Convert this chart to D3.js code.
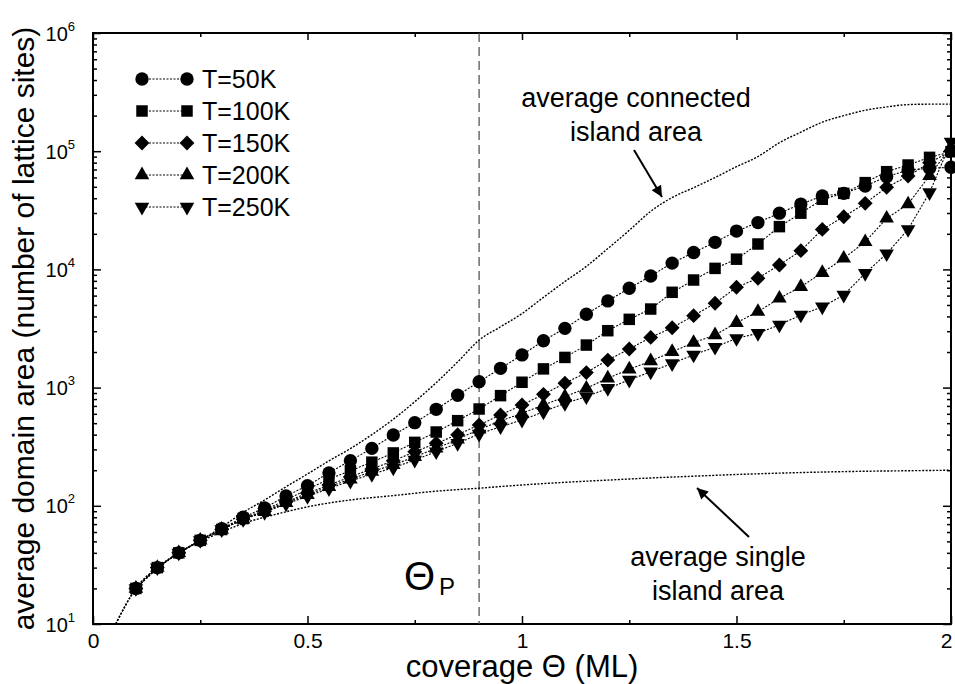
<!DOCTYPE html>
<html>
<head>
<meta charset="utf-8">
<script src="https://cdn.jsdelivr.net/npm/d3@7"></script>
<style>
  body { margin: 0; background: #fff; }
  text { font-family: "Liberation Sans", Arial, sans-serif; fill: #000; }
</style>
</head>
<body>
<div id="chart"></div>
<script>
// coverage values (ML) of the simulated points
var theta = [0.1,0.15,0.2,0.25,0.3,0.35,0.4,0.45,0.5,0.55,0.6,0.65,0.7,0.75,0.8,0.85,0.9,0.95,1.0,
  1.05,1.1,1.15,1.2,1.25,1.3,1.35,1.4,1.45,1.5,1.55,1.6,1.65,1.7,1.75,1.8,1.85,1.9,1.95,2.0];

var t50 = [20,30,40,51,64,80,96,121,148,190,241,306,397,505,655,861,1120,1456,1890,
  2490,3170,4170,5410,6920,8790,11300,13900,16950,21100,24900,29900,35700,41800,44000,50800,60900,69300,71700,73100];
var t100 = [20,30,40,51,63,78,92,112,138,168,198,234,280,344,421,525,659,855,1110,
  1440,1800,2290,3030,3780,4620,6400,8130,10200,12200,16400,23000,29900,39200,44000,54200,67100,76400,88700,99000];
var t150 = [20,30,40,51,63,77,90,108,128,150,176,205,240,287,338,400,483,586,713,
  877,1090,1340,1710,2120,2660,3210,4060,5170,7060,8410,10900,14400,21800,27900,36200,49500,61600,80000,100000];
var t200 = [20,30,40,51,63,77,89,106,124,145,168,195,222,260,306,365,444,522,606,
  713,838,986,1200,1430,1680,2010,2400,2790,3540,4390,5690,7140,9380,12400,17100,27000,35700,62000,109000];
var t250 = [20,30,40,51,63,77,88,104,120,140,162,185,210,244,287,338,405,467,532,
  625,736,838,986,1160,1360,1600,1890,2200,2610,2880,3390,4120,4830,6070,9270,13600,21800,44700,120000];

var seriesNames = ["T=50K", "T=100K", "T=150K", "T=200K", "T=250K"];

// average connected island area (dotted curve)
var connTheta = [0.053,0.1,0.15,0.2,0.25,0.3,0.35,0.4,0.45,0.5,0.55,0.6,0.65,0.7,0.75,0.8,0.85,0.9,0.95,1.0,
  1.05,1.1,1.15,1.2,1.25,1.3,1.35,1.4,1.45,1.5,1.55,1.6,1.65,1.7,1.75,1.8,1.85,1.9,1.95,2.0];
var connArea = [10,20,30,40,51,66,88,112,145,186,240,305,400,540,760,1100,1650,2520,3270,4230,
  5800,7900,10600,15000,21400,31000,40600,49100,59900,74000,90000,118000,145000,176000,200000,222000,237000,248000,250000,250000];

// average single island area (dotted curve)
var singTheta = [0.053,0.1,0.15,0.2,0.25,0.3,0.35,0.4,0.45,0.5,0.6,0.7,0.8,0.9,1.0,1.1,1.2,1.3,1.4,1.5,1.6,1.7,1.8,1.9,2.0];
var singArea = [10,20,30,40,50,60,71,80,89,98,112,122,133,141,150,158,165,172,178,184,189,193,196,198,200];

var thetaP = 0.9;

var xTicks = [0, 0.5, 1, 1.5, 2];
var xTickLabels = ["0", "0.5", "1", "1.5", "2"];
var xMinor = [0.25, 0.75, 1.25, 1.75];
var yTicks = [10, 100, 1000, 10000, 100000, 1000000];
var yTickExp = ["1", "2", "3", "4", "5", "6"];

var svgWidth = 955, svgHeight = 684;
var margin = {top: 33, right: 4, bottom: 60, left: 93};
var width = svgWidth - margin.left - margin.right;
var height = svgHeight - margin.top - margin.bottom;

var svg = d3.select("#chart").append("svg")
  .attr("width", svgWidth)
  .attr("height", svgHeight);

var chart = svg.append("g")
  .attr("transform", `translate(${margin.left}, ${margin.top})`);

var x = d3.scaleLinear().domain([0, 2]).range([0, width]);
var y = d3.scaleLog().domain([10, 1e6]).range([height, 0]);

// minor log ticks
var yMinor = [];
yTicks.slice(0, -1).forEach(function(d) {
  for (var k = 2; k <= 9; k++) yMinor.push(d * k);
});

function styleAxis(g) {
  g.select(".domain").remove();
  g.selectAll("line").attr("stroke", "#000").attr("stroke-width", 1.5);
}

// bottom axis
var gx = chart.append("g")
  .attr("transform", `translate(0, ${height})`)
  .call(d3.axisBottom(x).tickValues(xTicks).tickSize(-8).tickPadding(9)
    .tickFormat(function(d, i) { return xTickLabels[i]; }))
  .call(styleAxis);
gx.selectAll("text").attr("font-size", 21).attr("fill", "#000");
gx.selectAll("text").filter(function(d) { return d === 2; }).attr("dx", -5);

chart.append("g")
  .attr("transform", `translate(0, ${height})`)
  .call(d3.axisBottom(x).tickValues(xMinor).tickSize(-4).tickFormat(""))
  .call(styleAxis);
// top axis
chart.append("g")
  .call(d3.axisTop(x).tickValues(xTicks).tickSize(-7).tickFormat(""))
  .call(styleAxis);
chart.append("g")
  .call(d3.axisTop(x).tickValues(xMinor).tickSize(-4).tickFormat(""))
  .call(styleAxis);

// left axis
var gy = chart.append("g")
  .call(d3.axisLeft(y).tickValues(yTicks).tickSize(-8).tickFormat(""))
  .call(styleAxis);
chart.append("g")
  .call(d3.axisLeft(y).tickValues(yMinor).tickSize(-4).tickFormat(""))
  .call(styleAxis);
// right axis
chart.append("g")
  .attr("transform", `translate(${width}, 0)`)
  .call(d3.axisRight(y).tickValues(yTicks).tickSize(-8).tickFormat(""))
  .call(styleAxis);
chart.append("g")
  .attr("transform", `translate(${width}, 0)`)
  .call(d3.axisRight(y).tickValues(yMinor).tickSize(-4).tickFormat(""))
  .call(styleAxis);

// y tick labels 10^n
gy.selectAll(".tick").each(function(d, i) {
  var t = d3.select(this).append("text")
    .attr("x", -18)
    .attr("y", 7)
    .attr("text-anchor", "end")
    .attr("font-size", 20);
  t.append("tspan").text("10");
  t.append("tspan").attr("dy", -10).attr("font-size", 13).text(yTickExp[i]);
});

// frame
chart.append("rect")
  .attr("width", width)
  .attr("height", height)
  .attr("fill", "none")
  .attr("stroke", "#000")
  .attr("stroke-width", 2);

// dashed percolation line
chart.append("line")
  .attr("x1", x(thetaP)).attr("x2", x(thetaP))
  .attr("y1", 0).attr("y2", height)
  .attr("stroke", "#555")
  .attr("stroke-width", 1.3)
  .attr("stroke-dasharray", "9,5");

var line = d3.line()
  .x(function(d) { return x(d[0]); })
  .y(function(d) { return y(d[1]); });

// connected and single island curves
chart.append("path")
  .datum(d3.zip(connTheta, connArea))
  .attr("d", line.curve(d3.curveMonotoneX))
  .attr("fill", "none")
  .attr("stroke", "#000")
  .attr("stroke-width", 1.4)
  .attr("stroke-dasharray", "2,1.5");

chart.append("path")
  .datum(d3.zip(singTheta, singArea))
  .attr("d", line.curve(d3.curveMonotoneX))
  .attr("fill", "none")
  .attr("stroke", "#000")
  .attr("stroke-width", 1.4)
  .attr("stroke-dasharray", "2,1.5");

line.curve(d3.curveLinear);

var diamond = {
  draw: function(context, size) {
    var r = Math.sqrt(size / 2);
    context.moveTo(0, -r);
    context.lineTo(r, 0);
    context.lineTo(0, r);
    context.lineTo(-r, 0);
    context.closePath();
  }
};

var markers = [
  {type: d3.symbolCircle, size: 140, rot: 0},
  {type: d3.symbolSquare, size: 132, rot: 0},
  {type: diamond, size: 110, rot: 0},
  {type: d3.symbolTriangle, size: 92, rot: 0},
  {type: d3.symbolTriangle, size: 92, rot: 180}
];

var allSeries = [t50, t100, t150, t200, t250];

allSeries.forEach(function(vals, s) {
  var pts = d3.zip(theta, vals);
  chart.append("path")
    .datum(pts)
    .attr("d", line)
    .attr("fill", "none")
    .attr("stroke", "#000")
    .attr("stroke-width", 1.1)
    .attr("stroke-dasharray", "2,1.5");
});

allSeries.forEach(function(vals, s) {
  var m = markers[s];
  var sym = d3.symbol().type(m.type).size(m.size);
  chart.selectAll(null)
    .data(d3.zip(theta, vals))
    .enter()
    .append("path")
    .attr("d", sym)
    .attr("transform", function(d) {
      return `translate(${x(d[0])}, ${y(d[1])}) rotate(${m.rot})`;
    })
    .attr("fill", "#000");
});

// legend
var legend = svg.append("g");
seriesNames.forEach(function(name, i) {
  var ly = 79 + i * 32;
  var m = markers[i];
  var sym = d3.symbol().type(m.type).size(m.size);
  legend.append("line")
    .attr("x1", 142).attr("x2", 187)
    .attr("y1", ly).attr("y2", ly)
    .attr("stroke", "#000")
    .attr("stroke-width", 1.1)
    .attr("stroke-dasharray", "2,1.5");
  [142, 187].forEach(function(mx) {
    legend.append("path")
      .attr("d", sym)
      .attr("transform", `translate(${mx}, ${ly}) rotate(${m.rot})`)
      .attr("fill", "#000");
  });
  legend.append("text")
    .attr("x", 202)
    .attr("y", ly + 9)
    .attr("font-size", 25)
    .text(name);
});

// arrow head
svg.append("defs").append("marker")
  .attr("id", "arrow")
  .attr("viewBox", "0 0 10 10")
  .attr("refX", 10).attr("refY", 5)
  .attr("markerWidth", 14).attr("markerHeight", 11)
  .attr("markerUnits", "userSpaceOnUse")
  .attr("orient", "auto")
  .append("path")
    .attr("d", "M0,0L10,5L0,10z")
    .attr("fill", "#000");

// annotations
svg.append("text").attr("x", 636).attr("y", 107).attr("text-anchor", "middle")
  .attr("font-size", 27).text("average connected");
svg.append("text").attr("x", 636).attr("y", 141).attr("text-anchor", "middle")
  .attr("font-size", 27).text("island area");
svg.append("line")
  .attr("x1", 634).attr("y1", 150).attr("x2", 662).attr("y2", 197)
  .attr("stroke", "#000").attr("stroke-width", 2)
  .attr("marker-end", "url(#arrow)");

svg.append("text").attr("x", 718).attr("y", 566).attr("text-anchor", "middle")
  .attr("font-size", 27).text("average single");
svg.append("text").attr("x", 718).attr("y", 600).attr("text-anchor", "middle")
  .attr("font-size", 27).text("island area");
svg.append("line")
  .attr("x1", 749).attr("y1", 537).attr("x2", 697).attr("y2", 488)
  .attr("stroke", "#000").attr("stroke-width", 2)
  .attr("marker-end", "url(#arrow)");

// theta_P label
svg.append("text").attr("x", 404).attr("y", 590).attr("font-size", 40).text("Θ");
svg.append("text").attr("x", 439).attr("y", 595).attr("font-size", 24).text("P");

// axis titles
svg.append("text")
  .attr("transform", "rotate(-90)")
  .attr("x", -(margin.top + height / 2))
  .attr("y", 34)
  .attr("text-anchor", "middle")
  .attr("font-size", 30)
  .text("average domain area (number of lattice sites)");

svg.append("text")
  .attr("x", margin.left + width / 2)
  .attr("y", 677)
  .attr("text-anchor", "middle")
  .attr("font-size", 31)
  .text("coverage Θ (ML)");
</script>
</body>
</html>
